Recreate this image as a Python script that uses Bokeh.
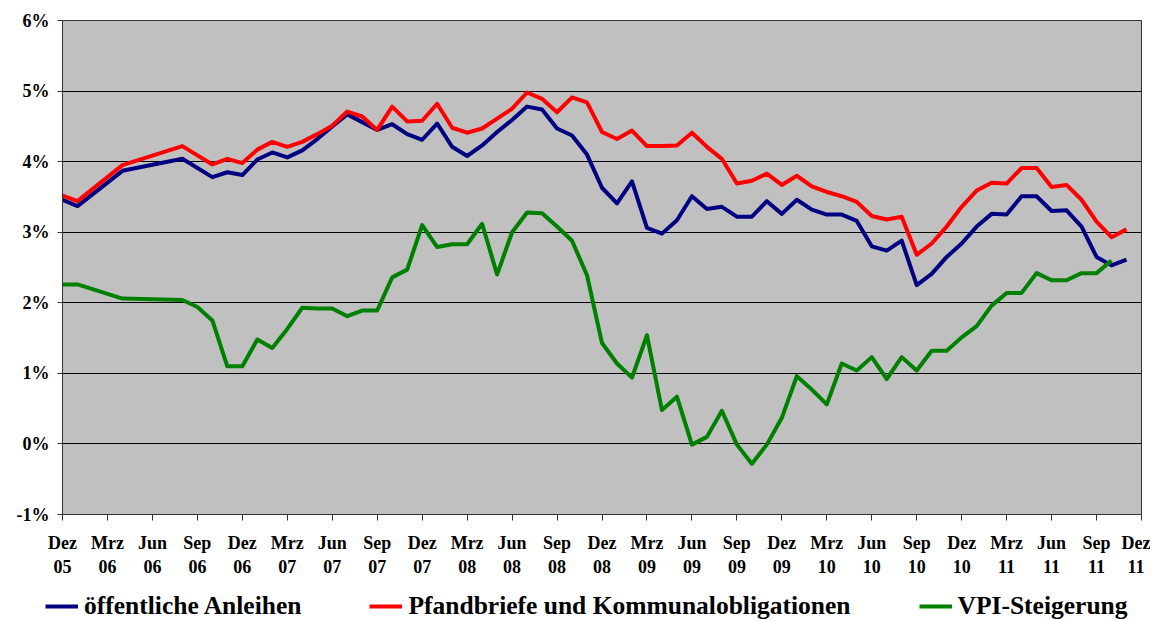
from bokeh.plotting import figure
from bokeh.models import Legend, LegendItem, FixedTicker, Range1d
from bokeh.layouts import column
from bokeh.embed import file_html
from bokeh.resources import INLINE

# month index: 0 = Dez 05, 72 = Dez 11
tick_labels = ["Dez\n05", "Mrz\n06", "Jun\n06", "Sep\n06", "Dez\n06", "Mrz\n07", "Jun\n07",
               "Sep\n07", "Dez\n07", "Mrz\n08", "Jun\n08", "Sep\n08", "Dez\n08", "Mrz\n09",
               "Jun\n09", "Sep\n09", "Dez\n09", "Mrz\n10", "Jun\n10", "Sep\n10", "Dez\n10",
               "Mrz\n11", "Jun\n11", "Sep\n11", "Dez\n11"]

bond_months = [0, 1, 4, 8] + list(range(10, 72))
oeff_anleihen = [3.46, 3.37, 3.87, 4.04, 3.78, 3.85, 3.81, 4.03, 4.13, 4.06, 4.16, 4.32, 4.50, 4.67,
                 4.56, 4.45, 4.53, 4.39, 4.31, 4.54, 4.21, 4.08, 4.23, 4.42, 4.59, 4.78, 4.74, 4.47,
                 4.37, 4.10, 3.63, 3.41, 3.72, 3.06, 2.98, 3.17, 3.51, 3.33, 3.36, 3.22, 3.22, 3.44,
                 3.26, 3.46, 3.32, 3.25, 3.25, 3.16, 2.80, 2.74, 2.88, 2.25, 2.41, 2.65, 2.84, 3.08,
                 3.26, 3.25, 3.51, 3.51, 3.30, 3.31, 3.08, 2.65, 2.53, 2.61]
pfandbriefe = [3.52, 3.44, 3.95, 4.22, 3.96, 4.04, 3.98, 4.17, 4.28, 4.21, 4.28, 4.39, 4.51, 4.71,
               4.64, 4.45, 4.78, 4.57, 4.58, 4.82, 4.48, 4.41, 4.47, 4.61, 4.75, 4.98, 4.89, 4.70,
               4.91, 4.84, 4.42, 4.32, 4.44, 4.22, 4.22, 4.23, 4.41, 4.21, 4.04, 3.69, 3.73, 3.83,
               3.67, 3.80, 3.65, 3.57, 3.51, 3.43, 3.23, 3.18, 3.22, 2.68, 2.84, 3.08, 3.36, 3.59,
               3.70, 3.69, 3.91, 3.91, 3.64, 3.67, 3.46, 3.15, 2.93, 3.04]

vpi_months = [0, 1, 4] + list(range(8, 71))
vpi = [2.26, 2.26, 2.06, 2.04, 1.94, 1.75, 1.10, 1.10, 1.48, 1.36, 1.63, 1.93, 1.92, 1.92, 1.81,
       1.89, 1.89, 2.36, 2.47, 3.10, 2.79, 2.83, 2.83, 3.12, 2.40, 3.00, 3.28, 3.27, 3.08, 2.88,
       2.39, 1.43, 1.14, 0.94, 1.54, 0.48, 0.67, -0.01, 0.10, 0.47, -0.01, -0.28, -0.01, 0.37,
       0.96, 0.77, 0.56, 1.14, 1.04, 1.23, 0.92, 1.23, 1.04, 1.32, 1.32, 1.51, 1.67, 1.96, 2.14,
       2.14, 2.42, 2.32, 2.32, 2.42, 2.42, 2.60]

series_names = ["öffentliche Anleihen", "Pfandbriefe und Kommunalobligationen", "VPI-Steigerung"]
series_colors = ["#000080", "#FF0000", "#008000"]

FONT = "Liberation Serif"

p = figure(width=1150, height=579, x_range=Range1d(0, 72), y_range=Range1d(-1, 6),
           output_backend="svg", toolbar_location=None,
           min_border_left=62, min_border_right=9, min_border_top=20, min_border_bottom=65,
           background_fill_color="#C0C0C0", border_fill_color="white")
p.outline_line_color = "#333333"

p.line(bond_months, oeff_anleihen, line_color=series_colors[0], line_width=4, line_join="round")
p.line(bond_months, pfandbriefe, line_color=series_colors[1], line_width=4, line_join="round")
p.line(vpi_months, vpi, line_color=series_colors[2], line_width=4, line_join="round")

p.xgrid.visible = False
p.ygrid.grid_line_color = "black"
p.ygrid.grid_line_width = 1

p.yaxis.ticker = FixedTicker(ticks=list(range(-1, 7)))
p.yaxis.major_label_overrides = {i: f"{i}%" for i in range(-1, 7)}
p.xaxis.ticker = FixedTicker(ticks=list(range(0, 73, 3)))
p.xaxis.major_label_overrides = {i * 3: lab for i, lab in enumerate(tick_labels)}

for ax in (p.xaxis[0], p.yaxis[0]):
    ax.major_label_text_font = FONT
    ax.major_label_text_font_style = "bold"
    ax.major_label_text_font_size = "18px"
    ax.major_label_text_color = "black"
    ax.axis_line_color = "#333333"
    ax.major_tick_line_color = "#333333"
    ax.major_tick_in = 0
    ax.minor_tick_line_color = None

p.xaxis.major_tick_out = 6
p.xaxis.major_label_standoff = 12
p.yaxis.major_tick_out = 5
p.yaxis.major_label_standoff = 8

# legend row (separate strip below the chart)
lg = figure(width=1150, height=42, x_range=Range1d(0, 1), y_range=Range1d(0, 1),
            output_backend="svg", toolbar_location=None,
            x_axis_location=None, y_axis_location=None,
            min_border_left=0, min_border_right=0, min_border_top=0, min_border_bottom=0,
            background_fill_color=None, border_fill_color="white", outline_line_color=None)
lg.frame_align = False
lg.xgrid.visible = False
lg.ygrid.visible = False
items = []
for name, col in zip(series_names, series_colors):
    r = lg.line([0, 0], [float("nan"), float("nan")], line_color=col, line_width=4)
    items.append(LegendItem(label=name, renderers=[r]))

legend = Legend(items=items, orientation="horizontal", location=(45, 0),
                label_text_font=FONT, label_text_font_style="bold", label_text_font_size="25.5px",
                label_text_color="black",
                glyph_width=33, glyph_height=20, label_standoff=6, spacing=68,
                padding=0, margin=0, border_line_color=None, background_fill_alpha=0)
lg.add_layout(legend, "center")

open("out.html", "w").write(file_html(column(p, lg, spacing=0), INLINE))
